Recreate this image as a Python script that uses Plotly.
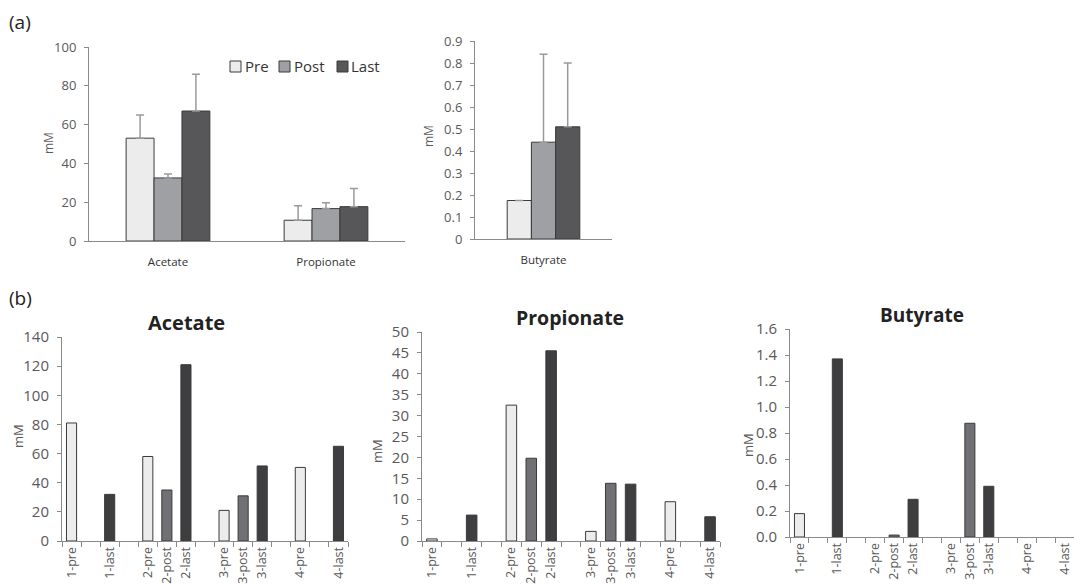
import plotly.graph_objects as go

# ---------------- data ----------------
# (a) means with upper error bars
acids_a1 = ["Acetate", "Propionate"]
pre_a1 = [53, 10.7]
post_a1 = [32.5, 16.7]
last_a1 = [67, 17.7]
pre_a1_err = [12, 7.5]
post_a1_err = [2, 3]
last_a1_err = [19, 9.3]

acids_a2 = ["Butyrate"]
pre_a2 = [0.175]
post_a2 = [0.44]
last_a2 = [0.51]
pre_a2_err = [0]
post_a2_err = [0.40]
last_a2_err = [0.29]

phases = ["Pre", "Post", "Last"]

# (b) individual samples
categories = ["1-pre", "1-post", "1-last", "g1",
              "2-pre", "2-post", "2-last", "g2",
              "3-pre", "3-post", "3-last", "g3",
              "4-pre", "4-post", "4-last"]
tick_labels = ["1-pre", "", "1-last", "",
               "2-pre", "2-post", "2-last", "",
               "3-pre", "3-post", "3-last", "",
               "4-pre", "", "4-last"]
samples = ["1-pre", "1-last", "2-pre", "2-post", "2-last",
           "3-pre", "3-post", "3-last", "4-pre", "4-last"]
acetate_b = [81, 32, 58, 35, 121, 21, 31, 51.5, 50.5, 65]
propionate_b = [0.5, 6.2, 32.5, 19.8, 45.5, 2.3, 13.8, 13.6, 9.4, 5.8]
butyrate_b = [0.18, 1.37, 0, 0.015, 0.29, 0, 0.875, 0.39, 0, 0]

# ---------------- styles ----------------
FONT = "Open Sans"
TICK_COL = "#595959"
AX_COL = "#8a8a8a"
OUTLINE = "#3a3a3a"
top_colors = {"Pre": "#ececec", "Post": "#9fa0a3", "Last": "#575759"}
bot_colors = {"pre": "#ececec", "post": "#717175", "last": "#3e3e40"}
ERR_COL = "#9a9a9a"

fig = go.Figure()

def add_top(xaxis, yaxis, cats, vals, errs):
    for name, v, e in zip(phases, vals, errs):
        fig.add_trace(go.Bar(
            x=cats, y=v, name=name, xaxis=xaxis, yaxis=yaxis,
            marker=dict(color=top_colors[name], line=dict(color=OUTLINE, width=1)),
            error_y=dict(type="data", array=e, arrayminus=[0] * len(e), symmetric=False,
                         color=ERR_COL, thickness=1.5, width=4),
            showlegend=False))

add_top("x", "y", acids_a1, [pre_a1, post_a1, last_a1],
        [pre_a1_err, post_a1_err, last_a1_err])
add_top("x2", "y2", acids_a2, [pre_a2, post_a2, last_a2],
        [pre_a2_err, post_a2_err, last_a2_err])

def add_bottom(xaxis, yaxis, vals):
    cols = [bot_colors[s.split("-")[1]] for s in samples]
    widths = [1 if v > 0 else 0 for v in vals]
    fig.add_trace(go.Bar(
        x=samples, y=vals, xaxis=xaxis, yaxis=yaxis, showlegend=False,
        marker=dict(color=cols, line=dict(color=OUTLINE, width=widths))))

add_bottom("x3", "y3", acetate_b)
add_bottom("x4", "y4", propionate_b)
add_bottom("x5", "y5", butyrate_b)

W, H = 1074, 584
def px(x0, x1):
    return [x0 / W, x1 / W]
def py(ytop, ybot):
    return [1 - ybot / H, 1 - ytop / H]

catfont = dict(family=FONT, size=11.5, color="#333333")

def yax(domain, rng, dtick, anchor, size, standoff, fmt=None):
    d = dict(domain=domain, range=rng, dtick=dtick, anchor=anchor,
             showgrid=False, zeroline=False, showline=True, linecolor=AX_COL,
             linewidth=1, ticks="outside", ticklen=4, tickcolor=AX_COL,
             tickfont=dict(family=FONT, size=size, color=TICK_COL),
             ticklabelstandoff=standoff, automargin=False, fixedrange=True)
    if fmt:
        d["tickformat"] = fmt
    return d

def xtop(domain, anchor):
    return dict(domain=domain, anchor=anchor, type="category", showgrid=False,
                showline=True, linecolor=AX_COL, linewidth=1, ticks="outside",
                ticklen=10, tickcolor="rgba(0,0,0,0)",
                tickfont=catfont, automargin=False, fixedrange=True)

def xbot(domain, anchor):
    return dict(domain=domain, anchor=anchor, type="category",
                categoryorder="array", categoryarray=categories,
                range=[-0.5, len(categories) - 0.5],
                tickmode="array", tickvals=categories, ticktext=tick_labels,
                tickangle=-90, tickson="boundaries", ticks="outside", ticklen=5,
                tickcolor=AX_COL, showgrid=False, showline=True, linecolor=AX_COL,
                linewidth=1, tickfont=dict(family=FONT, size=12.5, color=TICK_COL),
                automargin=False, fixedrange=True)

fig.update_layout(
    width=W, height=H,
    margin=dict(l=0, r=0, t=0, b=0),
    paper_bgcolor="white", plot_bgcolor="white",
    barmode="group", bargap=0.47, bargroupgap=0,
    font=dict(family=FONT, color=TICK_COL),
    showlegend=False,
    xaxis=xtop(px(89, 405), "y"),
    yaxis=yax(py(47, 241), [0, 100], 20, "x", 13, 5),
    xaxis2=xtop(px(475, 612), "y2"),
    yaxis2=yax(py(41, 239), [0, 0.9], 0.1, "x2", 13, 5),
    xaxis3=xbot(px(62, 348), "y3"),
    yaxis3=yax(py(337, 541), [0, 140], 20, "x3", 15, 5),
    xaxis4=xbot(px(422, 720), "y4"),
    yaxis4=yax(py(332, 541), [0, 50], 5, "x4", 15, 5),
    xaxis5=xbot(px(790, 1074), "y5"),
    yaxis5=yax(py(329, 537), [0, 1.6], 0.2, "x5", 15, 5, ".1f"),
)

def ann(text, x, y, size, color="#333333", bold=False, angle=0, xanchor="center"):
    fig.add_annotation(text=f"<b>{text}</b>" if bold else text,
                       x=x / W, y=1 - y / H, xref="paper", yref="paper",
                       showarrow=False, textangle=angle,
                       font=dict(family=FONT, size=size, color=color),
                       xanchor=xanchor, yanchor="middle")

# compact legend (key squares + labels), as in the original figure
legend_pos = [(230, 243), (279, 292), (337, 349)]
for name, (sx, tx) in zip(phases, legend_pos):
    fig.add_shape(type="rect", xref="paper", yref="paper",
                  x0=sx / W, x1=(sx + 11) / W, y0=1 - 72 / H, y1=1 - 61 / H,
                  fillcolor=top_colors[name], line=dict(color=OUTLINE, width=1))
    ann(name, tx, 66.5, 15, "#333333", xanchor="left")

ann("(a)", 20, 22, 19, "#222222")
ann("(b)", 20, 298, 19, "#222222")
ann("mM", 48, 143, 12, TICK_COL, angle=-90)
ann("mM", 428, 136, 12, TICK_COL, angle=-90)
ann("mM", 18, 436, 13, TICK_COL, angle=-90)
ann("mM", 377, 451, 13, TICK_COL, angle=-90)
ann("mM", 748, 445, 13, TICK_COL, angle=-90)
ann("Acetate", 186, 322, 20, "#222222", bold=True)
ann("Propionate", 570, 317, 19.5, "#222222", bold=True)
ann("Butyrate", 922, 315, 19, "#222222", bold=True)

fig.write_html("out.html", config={"displayModeBar": False},
               post_script="document.body.style.margin='0';document.body.style.overflow='hidden';")
